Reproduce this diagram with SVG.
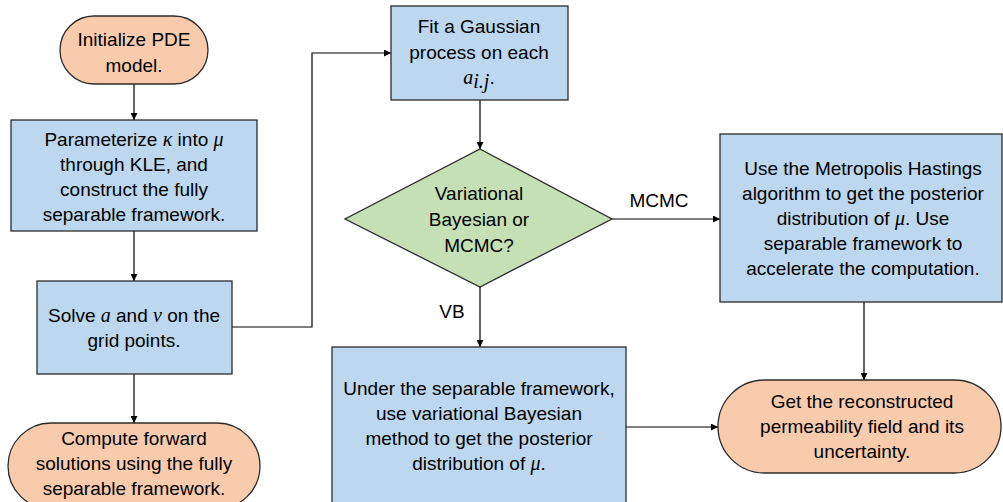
<svg xmlns="http://www.w3.org/2000/svg" width="1003" height="502" viewBox="0 0 1003 502">
<defs>
<marker id="ah" viewBox="0 0 10 10" refX="10" refY="5" markerWidth="7" markerHeight="7" markerUnits="userSpaceOnUse" orient="auto">
<path d="M0,0 L10,5 L0,10 z" fill="#000"/>
</marker>
<style>
.term{fill:#F8CBAD;stroke:#2b2b2b;stroke-width:1.3}
.proc{fill:#BDD7EE;stroke:#2b2b2b;stroke-width:1.3}
.dec{fill:#C5E0B4;stroke:#2b2b2b;stroke-width:1.3}
.t{font-family:"Liberation Sans",Arial,sans-serif;font-size:19px;fill:#000;text-anchor:middle}
.m{font-family:"Liberation Serif","DejaVu Serif",serif;font-style:italic;font-size:20px}
.c{fill:none;stroke:#000;stroke-width:1.2;marker-end:url(#ah)}
</style>
</defs>
<rect width="1003" height="502" fill="#fff"/>
<g id="connectors">
<path class="c" d="M134,84 V120"/>
<path class="c" d="M134,231 V281"/>
<path class="c" d="M232,327 H312 V53 H391"/>
<path class="c" d="M134,374 V423"/>
<path class="c" d="M480,100 V149"/>
<path class="c" d="M612,219 H720"/>
<path class="c" d="M480,287 V347"/>
<path class="c" d="M626,427 H718"/>
<path class="c" d="M864,302 V380"/>
<text class="t" x="659" y="207">MCMC</text>
<text class="t" x="452" y="318">VB</text>
</g>
<g id="n-init">
<rect class="term" x="60" y="16" width="148" height="68" rx="34" ry="34"/>
<text class="t" x="134" y="46">Initialize PDE</text>
<text class="t" x="134" y="72">model.</text>
</g>
<g id="n-param">
<rect class="proc" x="11" y="120" width="246" height="111"/>
<text class="t" x="134" y="146">Parameterize <tspan class="m">κ</tspan> into <tspan class="m">μ</tspan></text>
<text class="t" x="134" y="171">through KLE,  and</text>
<text class="t" x="134" y="196">construct the fully</text>
<text class="t" x="134" y="221">separable framework.</text>
</g>
<g id="n-solve">
<rect class="proc" x="37" y="281" width="195" height="93"/>
<text class="t" x="134" y="322">Solve <tspan class="m">a</tspan> and <tspan class="m">v</tspan> on the</text>
<text class="t" x="134" y="347">grid points.</text>
</g>
<g id="n-forward">
<rect class="term" x="8" y="423" width="252" height="86" rx="43" ry="43"/>
<text class="t" x="134" y="445">Compute forward</text>
<text class="t" x="134" y="470">solutions using the fully</text>
<text class="t" x="134" y="495">separable framework.</text>
</g>
<g id="n-gp">
<rect class="proc" x="391" y="6" width="177" height="94"/>
<text class="t" x="479" y="33">Fit a Gaussian</text>
<text class="t" x="479" y="59">process on each</text>
<text class="t" x="479" y="84"><tspan class="m">a</tspan><tspan class="m" font-size="14" dy="4">i.j</tspan><tspan dy="-4">.</tspan></text>
</g>
<g id="n-choice">
<polygon class="dec" points="480,149 612,219 480,287 345,219"/>
<text class="t" x="479" y="200">Variational</text>
<text class="t" x="479" y="226">Bayesian or</text>
<text class="t" x="479" y="252">MCMC?</text>
</g>
<g id="n-mcmc">
<rect class="proc" x="720" y="134" width="282" height="168"/>
<text class="t" x="863" y="175">Use the Metropolis Hastings</text>
<text class="t" x="863" y="200">algorithm to get the posterior</text>
<text class="t" x="863" y="225">distribution of <tspan class="m">μ</tspan>. Use</text>
<text class="t" x="863" y="250">separable framework to</text>
<text class="t" x="863" y="275">accelerate the computation.</text>
</g>
<g id="n-vb">
<rect class="proc" x="332" y="347" width="294" height="170"/>
<text class="t" x="479" y="395">Under the separable framework,</text>
<text class="t" x="479" y="420">use variational Bayesian</text>
<text class="t" x="479" y="445">method to get the posterior</text>
<text class="t" x="479" y="470">distribution of <tspan class="m">μ</tspan>.</text>
</g>
<g id="n-result">
<rect class="term" x="718" y="380" width="283" height="93" rx="46.5" ry="46.5"/>
<text class="t" x="862" y="408">Get the reconstructed</text>
<text class="t" x="862" y="433">permeability field and its</text>
<text class="t" x="862" y="458">uncertainty.</text>
</g>
</svg>
